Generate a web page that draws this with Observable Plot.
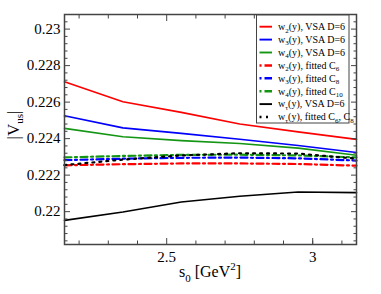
<!DOCTYPE html>
<html><head><meta charset="utf-8">
<script src="https://cdn.jsdelivr.net/npm/d3@7"></script>
<script src="https://cdn.jsdelivr.net/npm/@observablehq/plot@0.6"></script>
<style>body{margin:0;background:#fff}#chart{width:381px;height:294px}</style>
</head><body><div id="chart"></div>
<script>
const s0 = [2.15, 2.35, 2.55, 2.75, 2.95, 3.15];
const w2VSA = [0.22712, 0.22602, 0.22544, 0.22480, 0.22437, 0.22396];
const w3VSA = [0.22525, 0.22459, 0.22429, 0.22397, 0.22362, 0.22324];
const w4VSA = [0.22456, 0.22410, 0.22389, 0.22373, 0.22348, 0.22309];
const w2Fit = [0.22254, 0.22260, 0.22264, 0.22264, 0.22261, 0.22252];
const w3Fit = [0.22282, 0.22290, 0.22295, 0.22296, 0.22292, 0.22280];
const w4Fit = [0.22297, 0.22305, 0.22311, 0.22312, 0.22308, 0.22297];
const wtVSA = [0.21952, 0.21998, 0.22053, 0.22084, 0.22108, 0.22104];
const wtFit = [0.22255, 0.22285, 0.22308, 0.22320, 0.22318, 0.22290];
const xMajor = [2.5, 3];
const xTickLabels = ["2.5", "3"];
const xMinor = [2.2, 2.3, 2.4, 2.6, 2.7, 2.8, 2.9, 3.0, 3.1];
const yMajor = [0.22, 0.222, 0.224, 0.226, 0.228, 0.23];
const yTickLabels = ["0.22", "0.222", "0.224", "0.226", "0.228", "0.23"];
const yMinor = [0.2184,0.2188,0.2192,0.2196,0.2204,0.2208,0.2212,0.2216,0.2224,0.2228,0.2232,0.2236,0.2244,0.2248,0.2252,0.2256,0.2264,0.2268,0.2272,0.2276,0.2284,0.2288,0.2292,0.2296,0.2304];

const GREEN = "#149614", RED = "#ff0000", BLUE = "#0000ff", BLACK = "#000000";
const DASHDOT = "7,3.5,2,3.5";
const series = [
  {vals: w2VSA, color: RED, dash: null, w: 1.6, label: ["w", "2", "(y), VSA D=6"]},
  {vals: w3VSA, color: BLUE, dash: null, w: 1.6, label: ["w", "3", "(y), VSA D=6"]},
  {vals: w4VSA, color: GREEN, dash: null, w: 1.6, label: ["w", "4", "(y), VSA D=6"]},
  {vals: w2Fit, color: RED, dash: DASHDOT, w: 2.2, label: ["w", "2", "(y), fitted C", "6"]},
  {vals: w3Fit, color: BLUE, dash: DASHDOT, w: 2.2, label: ["w", "3", "(y), fitted C", "8"]},
  {vals: w4Fit, color: GREEN, dash: DASHDOT, w: 2.2, label: ["w", "4", "(y), fitted C", "10"]},
  {vals: wtVSA, color: BLACK, dash: null, w: 1.6, label: ["w", "τ", "(y), VSA D=6"]},
  {vals: wtFit, color: BLACK, dash: "2,5", w: 2.2, label: ["w", "τ", "(y), fitted C", "6", ", C", "8"]}
];
const rows = (s) => s0.map((x, i) => ({x, y: s.vals[i]}));
const FONT = "Liberation Serif, Times New Roman, serif";
const GRAY = "#444";
const fmtY = (d) => yTickLabels[yMajor.findIndex(v => Math.abs(v - d) < 1e-9)];
const fmtX = (d) => xTickLabels[xMajor.findIndex(v => Math.abs(v - d) < 1e-9)];

const plot = Plot.plot({
  width: 381, height: 294,
  marginLeft: 64, marginRight: 25, marginTop: 14, marginBottom: 50,
  style: {fontFamily: FONT, background: "#fff"},
  x: {domain: [2.15, 3.15]},
  y: {domain: [0.2182, 0.2308]},
  marks: [
    ...series.map(s => Plot.line(rows(s), {x: "x", y: "y", stroke: s.color, strokeWidth: s.w, strokeDasharray: s.dash || undefined})),
    Plot.frame({stroke: GRAY, strokeWidth: 1.5}),
    Plot.axisY(yMajor, {anchor: "left", tickSize: 0, tickPadding: 4, fontSize: 15, fill: "#000", tickFormat: fmtY, label: null}),
    Plot.axisY(yMajor, {anchor: "left", tickSize: -6, tickFormat: () => "", stroke: GRAY, label: null}),
    Plot.axisY(yMinor, {anchor: "left", tickSize: -3.5, tickFormat: () => "", stroke: GRAY, label: null}),
    Plot.axisY(yMajor, {anchor: "right", tickSize: -6, tickFormat: () => "", stroke: GRAY, label: null}),
    Plot.axisY(yMinor, {anchor: "right", tickSize: -3.5, tickFormat: () => "", stroke: GRAY, label: null}),
    Plot.axisX(xMajor, {anchor: "bottom", tickSize: 0, tickPadding: 7, fontSize: 15, fill: "#000", tickFormat: fmtX, label: null}),
    Plot.axisX(xMajor, {anchor: "bottom", tickSize: -6, tickFormat: () => "", stroke: GRAY, label: null}),
    Plot.axisX(xMinor, {anchor: "bottom", tickSize: -3.5, tickFormat: () => "", stroke: GRAY, label: null}),
    Plot.axisX(xMajor, {anchor: "top", tickSize: -6, tickFormat: () => "", stroke: GRAY, label: null}),
    Plot.axisX(xMinor, {anchor: "top", tickSize: -3.5, tickFormat: () => "", stroke: GRAY, label: null})
  ]
});
document.getElementById("chart").appendChild(plot);

const svg = d3.select(plot);
// axis titles
const xl = svg.append("text").attr("x", 210).attr("y", 277).attr("text-anchor", "middle")
  .attr("font-family", FONT).attr("font-size", 16).attr("fill", "#000");
xl.append("tspan").text("s");
xl.append("tspan").attr("font-size", 11).attr("dy", 5).text("0");
xl.append("tspan").attr("dy", -5).text(" [GeV");
xl.append("tspan").attr("font-size", 11).attr("dy", -7).text("2");
xl.append("tspan").attr("dy", 7).text("]");

const yl = svg.append("text").attr("transform", "translate(19,125) rotate(-90)").attr("text-anchor", "middle")
  .attr("font-family", FONT).attr("font-size", 17).attr("fill", "#000");
yl.append("tspan").text("|V");
yl.append("tspan").attr("font-size", 11).attr("dy", 4).text("us");
yl.append("tspan").attr("dy", -4).text("|");

// legend
const lg = svg.append("g");
lg.append("rect").attr("x", 256.5).attr("y", 15).attr("width", 92.5).attr("height", 108)
  .attr("fill", "#fff").attr("stroke", GRAY).attr("stroke-width", 1);
series.forEach((s, i) => {
  const y = 26.7 + i * 12.9;
  lg.append("line").attr("x1", 259.5).attr("x2", 272).attr("y1", y).attr("y2", y)
    .attr("stroke", s.color).attr("stroke-width", s.w + 0.3)
    .attr("stroke-dasharray", s.dash ? (s.dash === "2,5" ? "2,4.5" : "2,3,7.5") : null);
  const t = lg.append("text").attr("x", 278).attr("y", y + 3.3).attr("text-anchor", "start")
    .attr("font-family", FONT).attr("font-size", 10).attr("fill", "#000");
  s.label.forEach((part, j) => {
    const sub = j % 2 === 1;
    t.append("tspan").attr("font-size", sub ? 7 : 10).attr("dy", j === 0 ? 0 : (sub ? 2.5 : -2.5)).text(part);
  });
});
</script>
</body></html>
